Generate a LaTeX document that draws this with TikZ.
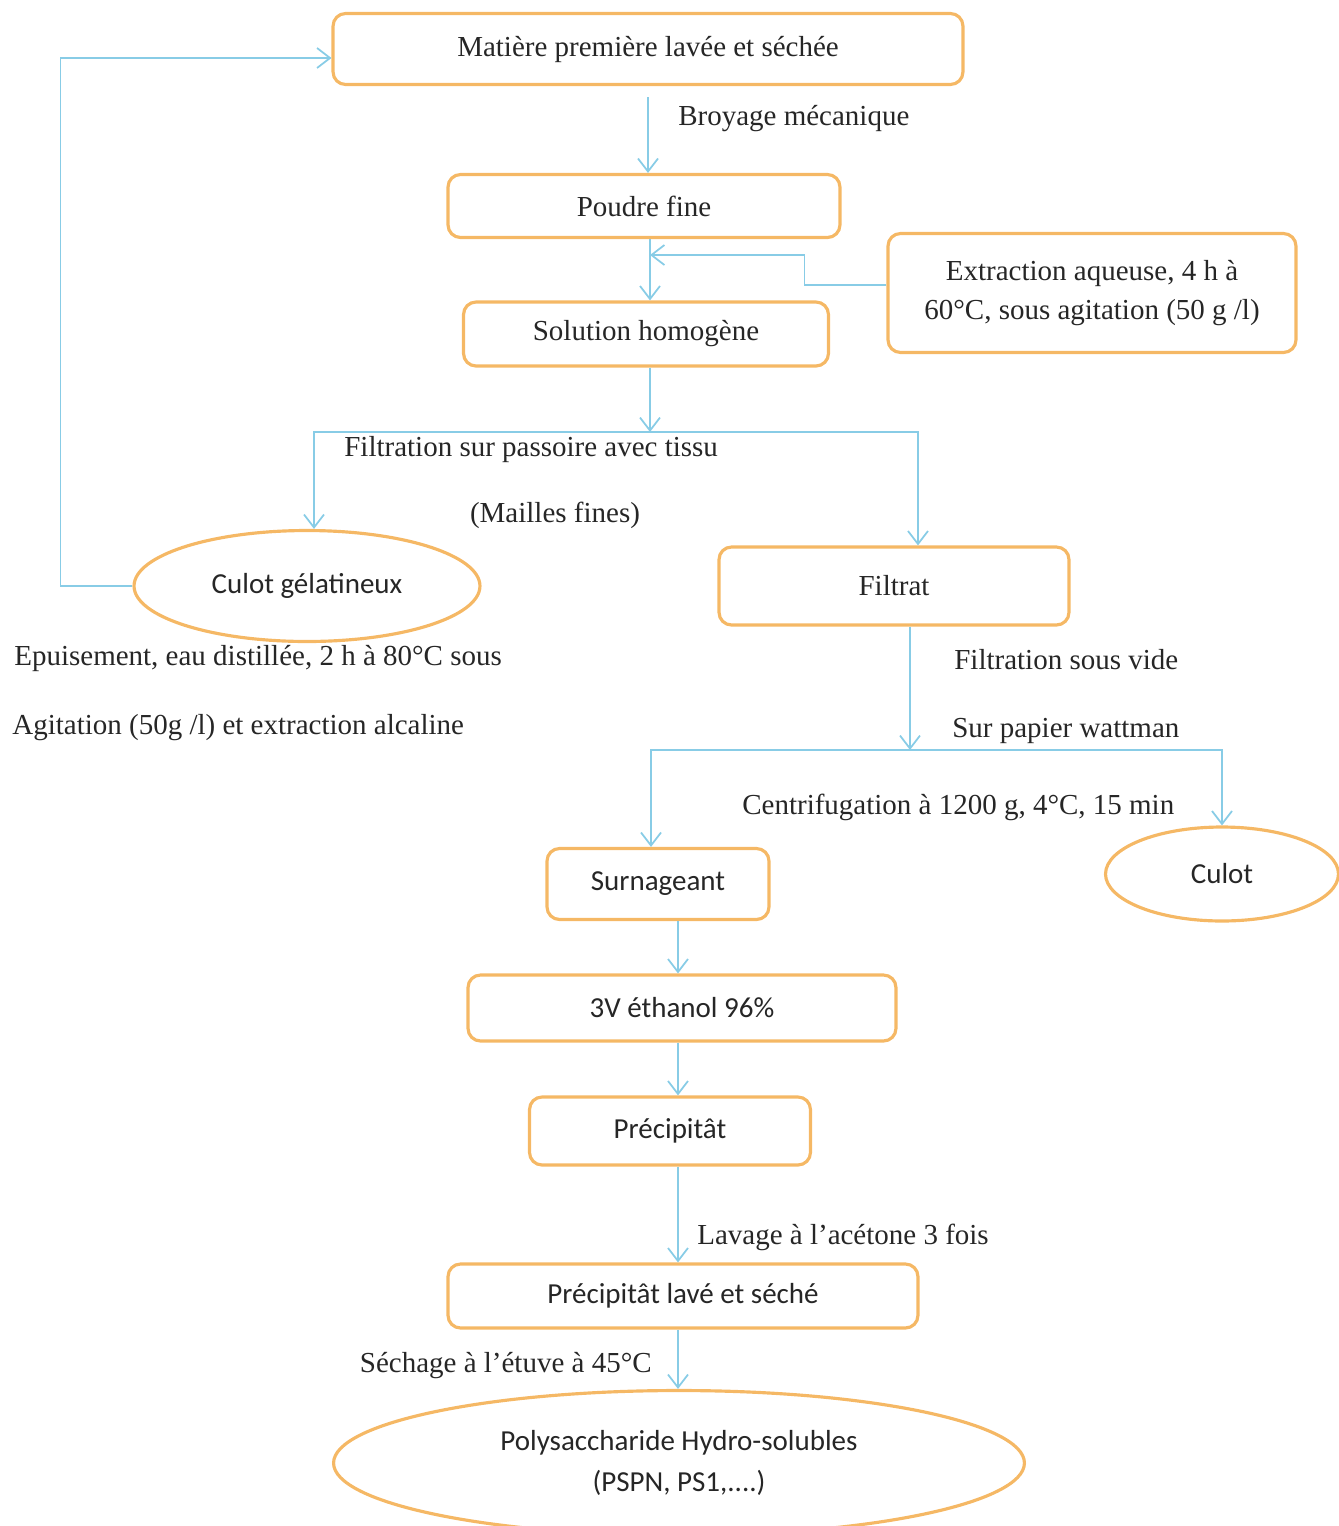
\documentclass[tikz,border=0pt]{standalone}
\usepackage{fontspec}
\setmainfont{Liberation Serif}
\newfontfamily\calib{Carlito}
\usetikzlibrary{arrows.meta,shapes.geometric}
\definecolor{boxorange}{HTML}{F5B865}
\definecolor{flowblue}{HTML}{88CCE6}

\begin{document}
\begin{tikzpicture}[x=0.02cm, y=-0.02cm,
  every node/.style={font=\fontsize{16.5}{22.7}\selectfont, text=black!85},
  calibri/.style={font=\calib\fontsize{16.5}{23.2}\selectfont},
  stepbox/.style={draw=boxorange, line width=1.8pt, rounded corners=0.25cm, inner sep=0pt},
  pot/.style={draw=boxorange, line width=1.8pt, ellipse, inner sep=0pt},
  flow/.style={draw=flowblue, line width=1pt, -{Straight Barb[length=0.26cm,width=0.4cm]}},
  note/.style={anchor=west, inner xsep=0pt}]
\useasboundingbox (0,0) rectangle (1339,1526);

% boxes
\node[stepbox, minimum width=12.6cm, minimum height=1.42cm] (matiere) at ( 648,  49) {Matière première lavée et séchée};
\node[stepbox, minimum width=7.84cm, minimum height=1.26cm] (poudre)  at ( 644, 206) {Poudre fine};
\node[stepbox, minimum width=8.16cm, minimum height=2.38cm, align=center] (extraction) at (1092, 293)
  {Extraction aqueuse, 4 h à\\60°C, sous agitation (50 g /l)};
\node[stepbox, minimum width=7.3cm,  minimum height=1.28cm] (solution) at ( 646, 334) {Solution homogène};
\node[pot, calibri, minimum width=6.92cm, minimum height=2.22cm] (gelat) at ( 307, 586) {Culot gélatineux};
\node[stepbox, minimum width=7cm,    minimum height=1.56cm] (filtrat) at ( 894, 586) {Filtrat};
\node[stepbox, calibri, minimum width=4.44cm, minimum height=1.42cm] (surnag) at ( 658, 884) {Surnageant};
\node[pot, calibri, minimum width=4.66cm, minimum height=1.88cm] (culot) at (1222, 874) {Culot};
\node[stepbox, calibri, minimum width=8.56cm, minimum height=1.32cm] (ethanol) at ( 682,1008) {3V éthanol 96\%};
\node[stepbox, calibri, minimum width=5.62cm, minimum height=1.36cm] (precip) at ( 670,1131) {Précipitât};
\node[stepbox, calibri, minimum width=9.4cm,  minimum height=1.28cm] (lave) at ( 683,1296) {Précipitât lavé et séché};
\node[pot, calibri, minimum width=13.82cm, minimum height=2.9cm, align=center] (poly) at ( 679,1463)
  {Polysaccharide Hydro-solubles\\(PSPN, PS1,....)};

% labels
\node[note] (broyage) at ( 678, 119) {Broyage mécanique};
\node[note] (tissu)   at ( 344, 450) {Filtration sur passoire avec tissu};
\node       (mailles) at ( 555, 515) {(Mailles fines)};
\node[note] (epuis1)  at (  14, 658) {Epuisement, eau distillée, 2 h à 80°C sous};
\node[note] (epuis2)  at (  12, 728) {Agitation (50g /l) et extraction alcaline};
\node[note] (vide)    at ( 954, 660) {Filtration sous vide};
\node[note] (papier)  at ( 952, 731) {Sur papier wattman};
\node[note] (centri)  at ( 742, 807) {Centrifugation à 1200 g, 4°C, 15 min};
\node[note] (acetone) at ( 697,1237) {Lavage à l’acétone 3 fois};
\node[anchor=east, inner xsep=0pt] (etuve) at ( 652,1366) {Séchage à l’étuve à 45°C};

% junctions
\coordinate (inlet)  at (650, 255);
\coordinate (split1) at (650, 432);
\coordinate (split2) at (910, 750);
\coordinate (col)    at (678,   0);

% connectors
\draw[flow, shorten <=0.22cm] (matiere.south) -- (matiere.south |- poudre.north);
\draw[flow] (poudre.south -| inlet) -- (solution.north -| inlet);
\draw[flow] ([yshift=0.16cm]extraction.west) -- ++(-82,0) |- (inlet);
\draw[flow] (solution.south -| split1) -- (split1);
\draw[flow] (split1) -| ([xshift=0.14cm]gelat.north);
\draw[flow] (split1) -| ([xshift=0.48cm]filtrat.north);
\draw[flow] (gelat.west) -- ++(-72,0) |- ([yshift=-0.18cm]matiere.west);
\draw[flow] (filtrat.south -| split2) -- (split2);
\draw[flow] (split2) -| ([xshift=-0.14cm]surnag.north);
\draw[flow] (split2) -| (culot.north);
\draw[flow] (surnag.south -| col) -- (ethanol.north -| col);
\draw[flow] (ethanol.south -| col) -- (precip.north -| col);
\draw[flow] (precip.south -| col) -- (lave.north -| col);
\draw[flow] (lave.south -| col) -- (poly.north -| col);
\end{tikzpicture}
\end{document}
